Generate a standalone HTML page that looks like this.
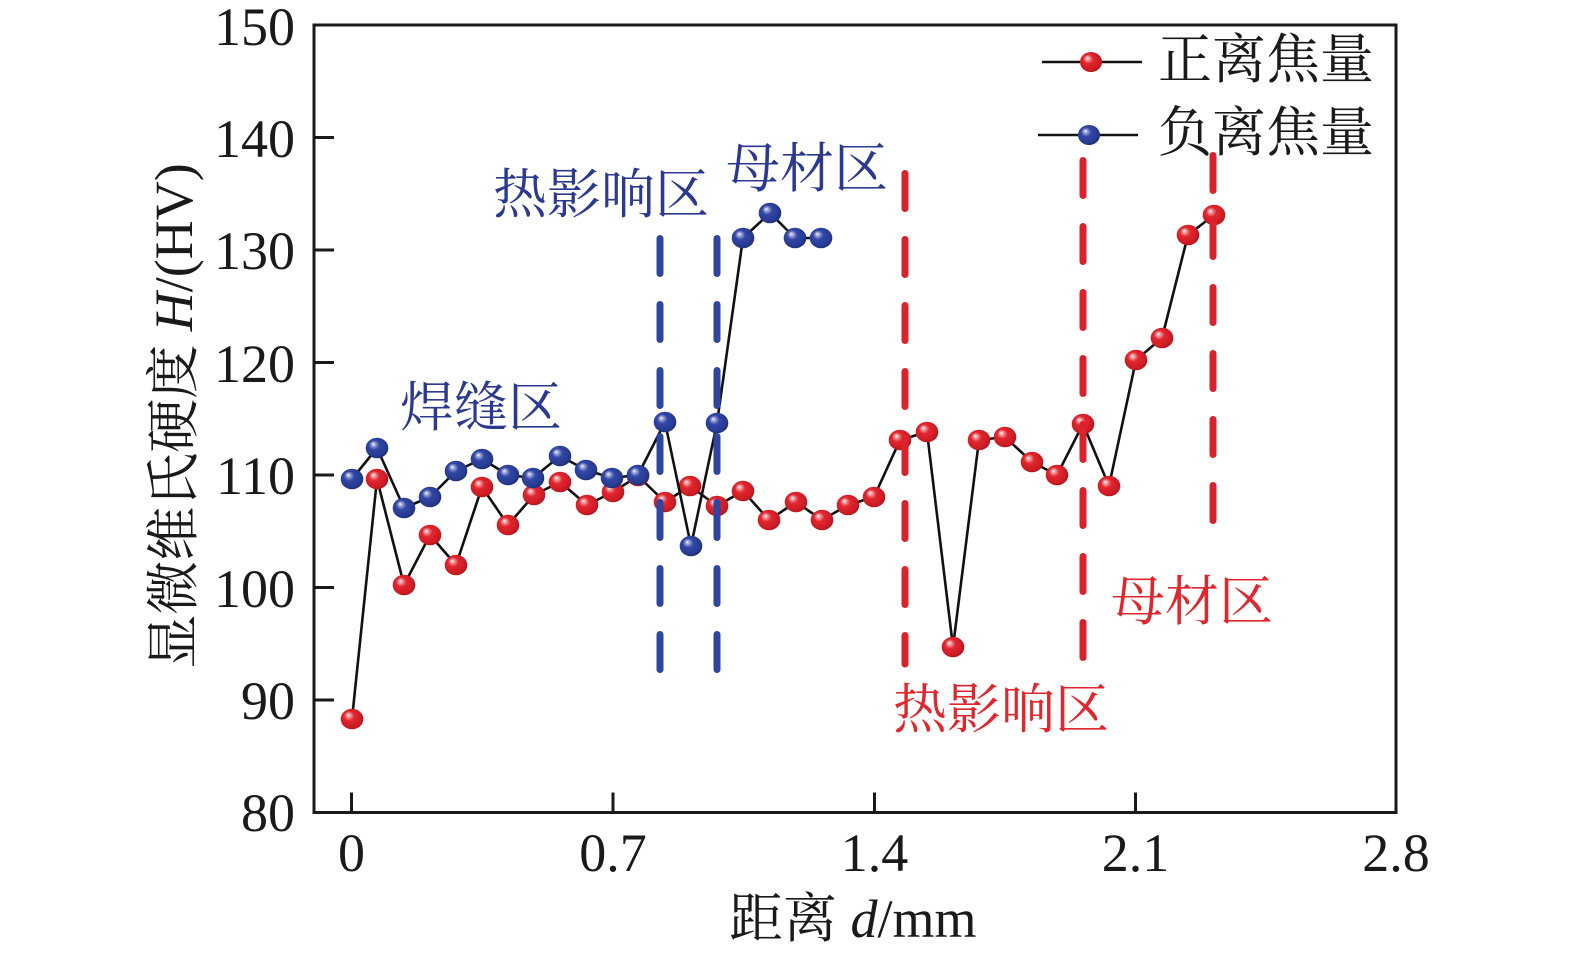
<!DOCTYPE html>
<html>
<head>
<meta charset="utf-8">
<style>
  html,body{margin:0;padding:0;background:#fff;}
  svg{display:block;}
  .tick{font-family:"Liberation Serif","Noto Serif CJK SC",serif;font-size:54px;fill:#1a1a1a;}
  .cjk{font-family:"Liberation Serif","Noto Serif CJK SC","Noto Sans CJK SC",serif;font-size:54px;}
</style>
</head>
<body>
<svg width="1575" height="958" viewBox="0 0 1575 958" xmlns="http://www.w3.org/2000/svg">
  <defs>
    <radialGradient id="gr" cx="0.45" cy="0.45" r="0.6" fx="0.33" fy="0.3">
      <stop offset="0" stop-color="#ffffff"/>
      <stop offset="0.13" stop-color="#f4a2a6"/>
      <stop offset="0.38" stop-color="#e1262e"/>
      <stop offset="0.8" stop-color="#cd1b23"/>
      <stop offset="1" stop-color="#a8131a"/>
    </radialGradient>
    <radialGradient id="gb" cx="0.45" cy="0.45" r="0.6" fx="0.33" fy="0.3">
      <stop offset="0" stop-color="#ffffff"/>
      <stop offset="0.13" stop-color="#a4acdc"/>
      <stop offset="0.38" stop-color="#3247a6"/>
      <stop offset="0.8" stop-color="#263a90"/>
      <stop offset="1" stop-color="#1a2870"/>
    </radialGradient>
  </defs>

  <!-- frame -->
  <rect x="314" y="25" width="1082" height="787.5" fill="none" stroke="#1a1a1a" stroke-width="3"/>
  <!-- y ticks -->
  <g stroke="#1a1a1a" stroke-width="3">
    <line x1="314" y1="137.5" x2="334" y2="137.5"/>
    <line x1="314" y1="250" x2="334" y2="250"/>
    <line x1="314" y1="362.5" x2="334" y2="362.5"/>
    <line x1="314" y1="475" x2="334" y2="475"/>
    <line x1="314" y1="587.5" x2="334" y2="587.5"/>
    <line x1="314" y1="700" x2="334" y2="700"/>
    <!-- x ticks -->
    <line x1="351.5" y1="812.5" x2="351.5" y2="792.5"/>
    <line x1="613" y1="812.5" x2="613" y2="792.5"/>
    <line x1="874.5" y1="812.5" x2="874.5" y2="792.5"/>
    <line x1="1135.5" y1="812.5" x2="1135.5" y2="792.5"/>
  </g>

  <!-- y tick labels -->
  <g class="tick" text-anchor="end">
    <text x="295" y="45">150</text>
    <text x="295" y="157">140</text>
    <text x="295" y="269">130</text>
    <text x="295" y="382">120</text>
    <text x="295" y="494">110</text>
    <text x="295" y="607">100</text>
    <text x="295" y="719">90</text>
    <text x="295" y="831">80</text>
  </g>
  <!-- x tick labels -->
  <g class="tick" text-anchor="middle">
    <text x="351.5" y="871">0</text>
    <text x="613" y="871">0.7</text>
    <text x="874.5" y="871">1.4</text>
    <text x="1135.5" y="871">2.1</text>
    <text x="1396" y="871">2.8</text>
  </g>

  <!-- axis titles -->
  <text class="cjk" x="729" y="937" fill="#1a1a1a">距离 <tspan font-style="italic">d</tspan>/mm</text>
  <text class="cjk" transform="translate(192,416) rotate(-90)" text-anchor="middle" fill="#1a1a1a">显微维氏硬度 <tspan font-style="italic">H</tspan>/(HV)</text>

  <!-- red series -->
  <polyline fill="none" stroke="#111" stroke-width="2.6" stroke-linejoin="round"
    points="352,719 377,479 404,585 430,535 456,565 482,487 508,525 534,495 560,482 587,505 613,492 638,476 665,502 690,486 717,506 743,491 769,520 796,502 822,520 848,505 874,497 900,440 927,432 953,647 979,440 1005,437 1032,462 1057,475 1083,424 1109,486 1136,360 1162,338 1188,235 1214,215"/>
  <g fill="url(#gr)">
    <ellipse cx="352" cy="719" rx="11.3" ry="10.3"/>
    <ellipse cx="377" cy="479" rx="11.3" ry="10.3"/>
    <ellipse cx="404" cy="585" rx="11.3" ry="10.3"/>
    <ellipse cx="430" cy="535" rx="11.3" ry="10.3"/>
    <ellipse cx="456" cy="565" rx="11.3" ry="10.3"/>
    <ellipse cx="482" cy="487" rx="11.3" ry="10.3"/>
    <ellipse cx="508" cy="525" rx="11.3" ry="10.3"/>
    <ellipse cx="534" cy="495" rx="11.3" ry="10.3"/>
    <ellipse cx="560" cy="482" rx="11.3" ry="10.3"/>
    <ellipse cx="587" cy="505" rx="11.3" ry="10.3"/>
    <ellipse cx="613" cy="492" rx="11.3" ry="10.3"/>
    <ellipse cx="638" cy="476" rx="11.3" ry="10.3"/>
    <ellipse cx="665" cy="502" rx="11.3" ry="10.3"/>
    <ellipse cx="690" cy="486" rx="11.3" ry="10.3"/>
    <ellipse cx="717" cy="506" rx="11.3" ry="10.3"/>
    <ellipse cx="743" cy="491" rx="11.3" ry="10.3"/>
    <ellipse cx="769" cy="520" rx="11.3" ry="10.3"/>
    <ellipse cx="796" cy="502" rx="11.3" ry="10.3"/>
    <ellipse cx="822" cy="520" rx="11.3" ry="10.3"/>
    <ellipse cx="848" cy="505" rx="11.3" ry="10.3"/>
    <ellipse cx="874" cy="497" rx="11.3" ry="10.3"/>
    <ellipse cx="900" cy="440" rx="11.3" ry="10.3"/>
    <ellipse cx="927" cy="432" rx="11.3" ry="10.3"/>
    <ellipse cx="953" cy="647" rx="11.3" ry="10.3"/>
    <ellipse cx="979" cy="440" rx="11.3" ry="10.3"/>
    <ellipse cx="1005" cy="437" rx="11.3" ry="10.3"/>
    <ellipse cx="1032" cy="462" rx="11.3" ry="10.3"/>
    <ellipse cx="1057" cy="475" rx="11.3" ry="10.3"/>
    <ellipse cx="1083" cy="424" rx="11.3" ry="10.3"/>
    <ellipse cx="1109" cy="486" rx="11.3" ry="10.3"/>
    <ellipse cx="1136" cy="360" rx="11.3" ry="10.3"/>
    <ellipse cx="1162" cy="338" rx="11.3" ry="10.3"/>
    <ellipse cx="1188" cy="235" rx="11.3" ry="10.3"/>
    <ellipse cx="1214" cy="215" rx="11.3" ry="10.3"/>
  </g>

  <!-- blue series -->
  <polyline fill="none" stroke="#111" stroke-width="2.6" stroke-linejoin="round"
    points="352,479 377,448 404,508 430,497 456,471 482,459 508,475 533,478 560,456 586,470 612,478 638,475 665,422 691,546 717,423 743,238 770,213 795,238 821,238"/>
  <g fill="url(#gb)">
    <ellipse cx="352" cy="479" rx="11.3" ry="10.3"/>
    <ellipse cx="377" cy="448" rx="11.3" ry="10.3"/>
    <ellipse cx="404" cy="508" rx="11.3" ry="10.3"/>
    <ellipse cx="430" cy="497" rx="11.3" ry="10.3"/>
    <ellipse cx="456" cy="471" rx="11.3" ry="10.3"/>
    <ellipse cx="482" cy="459" rx="11.3" ry="10.3"/>
    <ellipse cx="508" cy="475" rx="11.3" ry="10.3"/>
    <ellipse cx="533" cy="478" rx="11.3" ry="10.3"/>
    <ellipse cx="560" cy="456" rx="11.3" ry="10.3"/>
    <ellipse cx="586" cy="470" rx="11.3" ry="10.3"/>
    <ellipse cx="612" cy="478" rx="11.3" ry="10.3"/>
    <ellipse cx="638" cy="475" rx="11.3" ry="10.3"/>
    <ellipse cx="665" cy="422" rx="11.3" ry="10.3"/>
    <ellipse cx="691" cy="546" rx="11.3" ry="10.3"/>
    <ellipse cx="717" cy="423" rx="11.3" ry="10.3"/>
    <ellipse cx="743" cy="238" rx="11.3" ry="10.3"/>
    <ellipse cx="770" cy="213" rx="11.3" ry="10.3"/>
    <ellipse cx="795" cy="238" rx="11.3" ry="10.3"/>
    <ellipse cx="821" cy="238" rx="11.3" ry="10.3"/>
  </g>

  <!-- dashed zone lines -->
  <g stroke="#2f45a3" stroke-width="7" stroke-linecap="round" stroke-dasharray="35 31" fill="none">
    <line x1="660" y1="238.5" x2="660" y2="670"/>
    <line x1="717" y1="238.5" x2="717" y2="670"/>
  </g>
  <g stroke="#d9222b" stroke-width="7" stroke-linecap="round" stroke-dasharray="35 31" fill="none">
    <line x1="905" y1="173.5" x2="905" y2="664"/>
    <line x1="1083" y1="160.5" x2="1083" y2="660"/>
    <line x1="1213" y1="155.5" x2="1213" y2="522"/>
  </g>

  <!-- zone annotations -->
  <g class="cjk" fill="#2b3990">
    <text x="400" y="426">焊缝区</text>
    <text x="493" y="213">热影响区</text>
    <text x="726" y="187">母材区</text>
  </g>
  <g class="cjk" fill="#e1262d">
    <text x="893" y="728">热影响区</text>
    <text x="1111" y="620">母材区</text>
  </g>

  <!-- legend -->
  <line x1="1042" y1="62" x2="1142" y2="62" stroke="#111" stroke-width="2.4"/>
  <ellipse cx="1091" cy="62" rx="11" ry="10" fill="url(#gr)"/>
  <line x1="1038" y1="135" x2="1138" y2="135" stroke="#111" stroke-width="2.4"/>
  <ellipse cx="1089" cy="135" rx="11" ry="10" fill="url(#gb)"/>
  <g class="cjk" fill="#1a1a1a">
    <text x="1158" y="78">正离焦量</text>
    <text x="1158" y="151">负离焦量</text>
  </g>
</svg>
</body>
</html>
